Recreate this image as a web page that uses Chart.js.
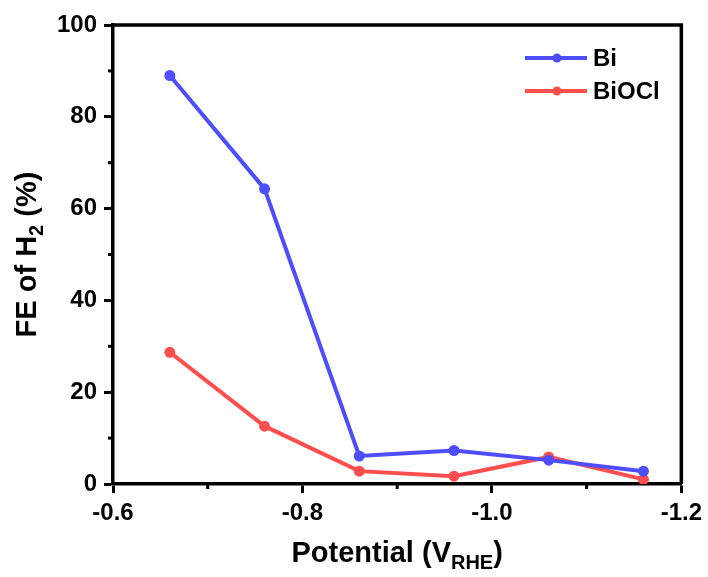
<!DOCTYPE html>
<html>
<head>
<meta charset="utf-8">
<script src="https://cdn.jsdelivr.net/npm/chart.js@4.4.0/dist/chart.umd.min.js"></script>
<style>
  body { margin: 0; background: #fff; }
  #wrap { width: 708px; height: 577px; }
</style>
</head>
<body>
<div id="wrap"><canvas id="myChart" width="708" height="577"></canvas></div>
<script>
// data
var potentials = [-0.66, -0.76, -0.86, -0.96, -1.06, -1.16];
var feBi = [89.0, 64.3, 6.1, 7.3, 5.2, 2.8];
var feBiOCl = [28.7, 12.6, 2.8, 1.7, 5.9, 1.0];
var xTicks = [-0.6, -0.8, -1.0, -1.2];
var xMinor = [-0.7, -0.9, -1.1];
var yTicks = [0, 20, 40, 60, 80, 100];
var yMinor = [10, 30, 50, 70, 90];

var blue = 'rgb(78, 78, 255)';
var red = 'rgb(255, 78, 78)';
var fontFam = '"Liberation Sans", Arial, sans-serif';

const toPoints = (ys) => potentials.map((x, i) => ({ x: x, y: ys[i] }));

// frame, minor ticks, axis titles and legend
const extras = {
    id: 'extras',
    afterDraw(chart) {
        const c = chart.ctx;
        const a = chart.chartArea;
        const xs = chart.scales.x, ys = chart.scales.y;
        c.save();
        c.strokeStyle = '#000';
        c.lineWidth = 3.5;
        c.beginPath();
        c.moveTo(a.left, a.top);
        c.lineTo(a.right, a.top);
        c.lineTo(a.right, a.bottom);
        c.stroke();

        c.lineWidth = 3;
        xMinor.forEach(v => {
            let px = xs.getPixelForValue(v);
            c.beginPath(); c.moveTo(px, a.bottom); c.lineTo(px, a.bottom + 5); c.stroke();
        });
        yMinor.forEach(v => {
            let py = ys.getPixelForValue(v);
            c.beginPath(); c.moveTo(a.left, py); c.lineTo(a.left - 5, py); c.stroke();
        });

        // x title with subscript
        c.fillStyle = '#000';
        c.textBaseline = 'alphabetic';
        let big = 'bold 29px ' + fontFam, small = 'bold 20px ' + fontFam;
        c.font = big;
        let p1 = 'Potential (V', p3 = ')';
        let w1 = c.measureText(p1).width, w3 = c.measureText(p3).width;
        c.font = small;
        let w2 = c.measureText('RHE').width;
        let xStart = (a.left + a.right) / 2 - (w1 + w2 + w3) / 2;
        let yBase = 562;
        c.font = big; c.textAlign = 'left';
        c.fillText(p1, xStart, yBase);
        c.font = small;
        c.fillText('RHE', xStart + w1, yBase + 7);
        c.font = big;
        c.fillText(p3, xStart + w1 + w2, yBase);

        // y title rotated
        c.save();
        c.translate(36, (a.top + a.bottom) / 2);
        c.rotate(-Math.PI / 2);
        c.font = big;
        let q1 = 'FE of H', q3 = ' (%)';
        let v1 = c.measureText(q1).width, v3 = c.measureText(q3).width;
        c.font = small;
        let v2 = c.measureText('2').width;
        let s = -(v1 + v2 + v3) / 2;
        c.font = big; c.fillText(q1, s, 0);
        c.font = small; c.fillText('2', s + v1, 7);
        c.font = big; c.fillText(q3, s + v1 + v2, 0);
        c.restore();

        // legend
        c.font = 'bold 24px ' + fontFam;
        c.textBaseline = 'middle';
        chart.data.datasets.forEach((ds, i) => {
            let ly = 58 + i * 33;
            c.strokeStyle = ds.borderColor;
            c.lineWidth = 4;
            c.beginPath(); c.moveTo(525, ly); c.lineTo(587, ly); c.stroke();
            c.fillStyle = ds.backgroundColor;
            c.beginPath(); c.arc(557, ly, 4.5, 0, Math.PI * 2); c.fill();
            c.fillStyle = '#000';
            c.fillText(ds.label, 593, ly + 1);
        });
        c.restore();
    }
};

var ctx = document.getElementById('myChart').getContext('2d');
var myChart = new Chart(ctx, {
    type: 'line',
    data: {
        datasets: [{
            label: 'Bi',
            data: toPoints(feBi),
            borderColor: blue,
            backgroundColor: blue,
            borderWidth: 4,
            pointRadius: 5.5,
            pointBorderWidth: 0
        }, {
            label: 'BiOCl',
            data: toPoints(feBiOCl),
            borderColor: red,
            backgroundColor: red,
            borderWidth: 4,
            pointRadius: 5.5,
            pointBorderWidth: 0
        }]
    },
    options: {
        responsive: false,
        animation: false,
        layout: { padding: { left: 0, top: 25, right: 26, bottom: 0 } },
        plugins: { legend: { display: false }, tooltip: { enabled: false } },
        scales: {
            x: {
                type: 'linear',
                reverse: true,
                min: -1.2,
                max: -0.6,
                afterBuildTicks: (sc) => { sc.ticks = xTicks.map(v => ({ value: v })); },
                afterFit: (sc) => { sc.height = 93; },
                ticks: {
                    color: '#000',
                    font: { family: fontFam, size: 24, weight: 'bold' },
                    padding: 6,
                    callback: (v) => v.toFixed(1),
                    maxRotation: 0
                },
                grid: { drawOnChartArea: false, drawTicks: true, tickLength: 9, tickWidth: 3, tickColor: '#000' },
                border: { color: '#000', width: 3.5 }
            },
            y: {
                min: 0,
                max: 100,
                afterBuildTicks: (sc) => { sc.ticks = yTicks.map(v => ({ value: v })); },
                afterFit: (sc) => { sc.width = 113; },
                ticks: {
                    color: '#000',
                    font: { family: fontFam, size: 24, weight: 'bold' },
                    padding: 7
                },
                grid: { drawOnChartArea: false, drawTicks: true, tickLength: 9, tickWidth: 3, tickColor: '#000' },
                border: { color: '#000', width: 3.5 }
            }
        }
    },
    plugins: [extras]
});
</script>
</body>
</html>
